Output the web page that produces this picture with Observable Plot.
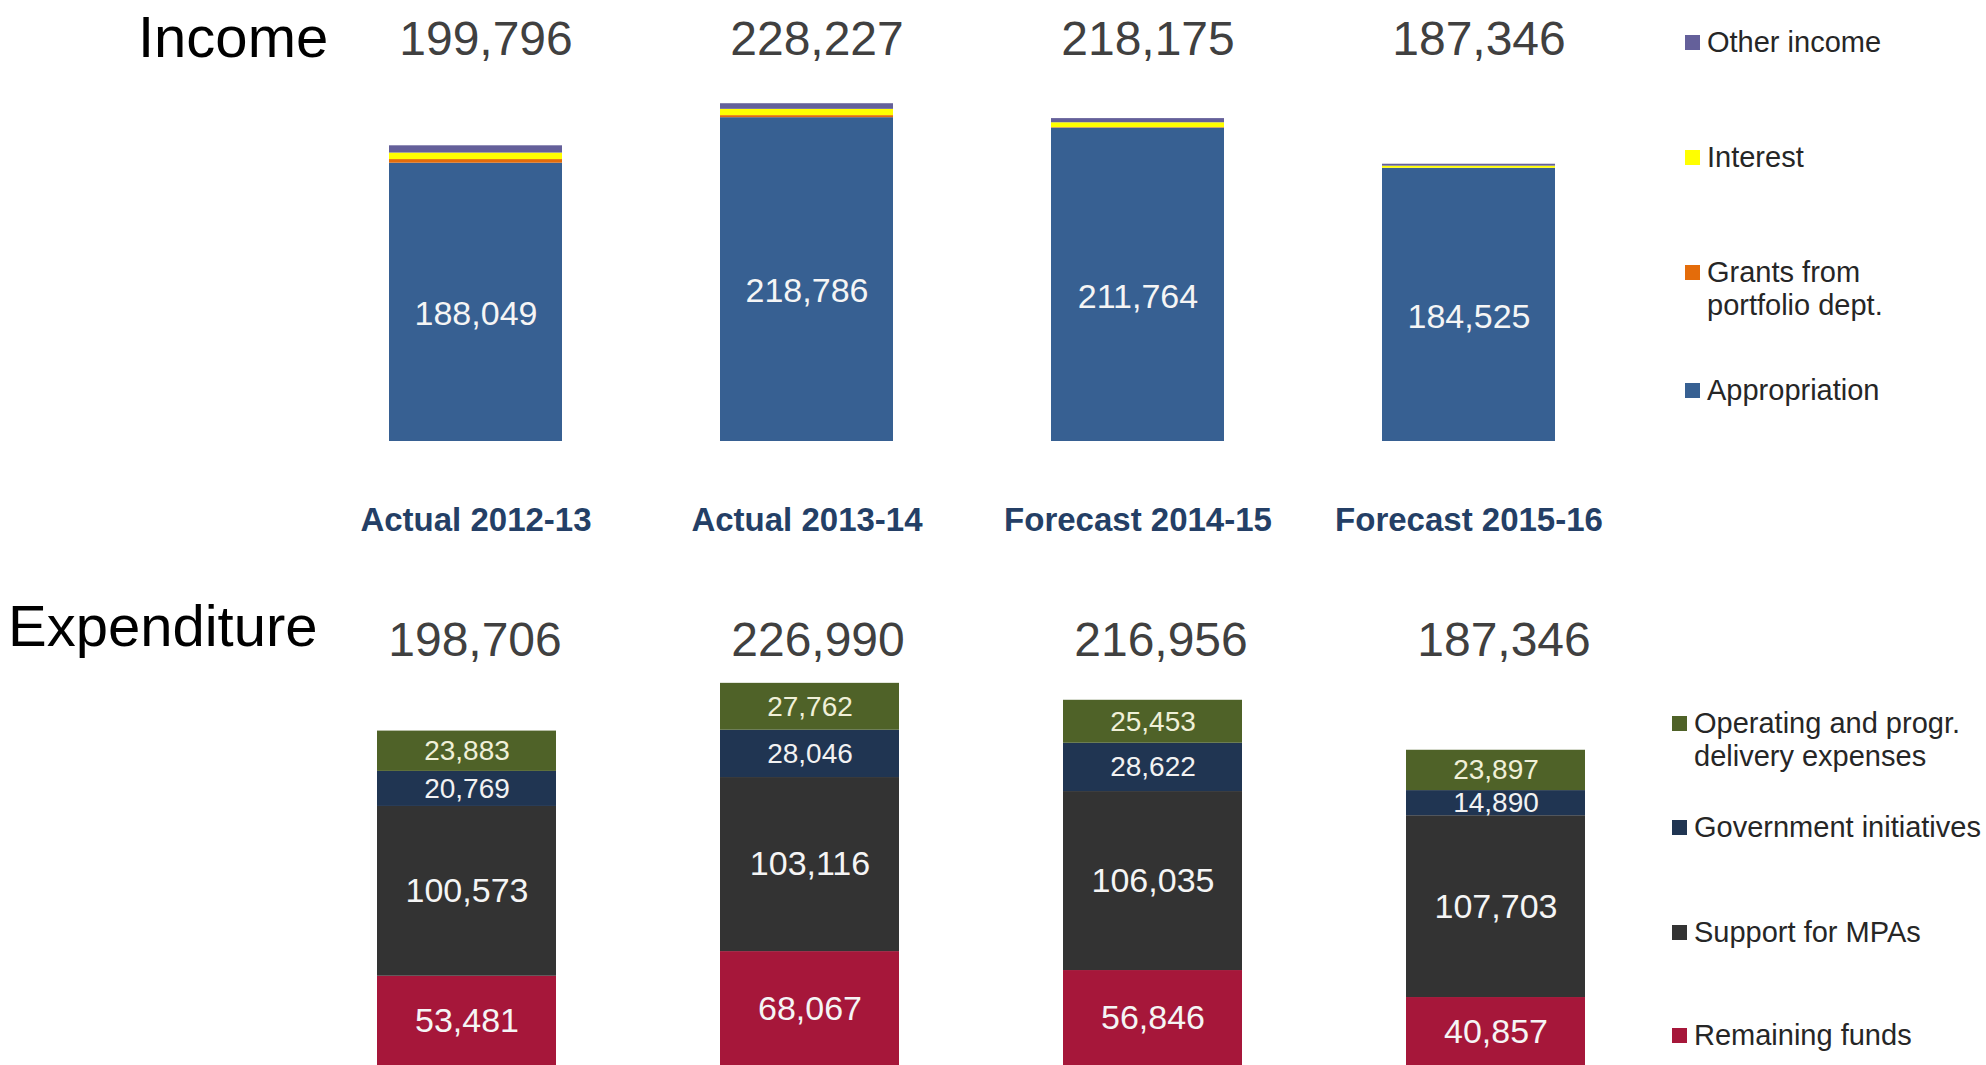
<!DOCTYPE html>
<html><head><meta charset="utf-8">
<script src="https://cdn.jsdelivr.net/npm/d3@7"></script>
<script src="https://cdn.jsdelivr.net/npm/@observablehq/plot@0.6"></script>
<style>
html,body{margin:0;padding:0;background:#fff;overflow:hidden}
#root{position:relative;width:1986px;height:1065px;overflow:hidden;font-family:"Liberation Sans",Arial,sans-serif}
.title{position:absolute;font-size:58px;line-height:58px;color:#000;white-space:nowrap}
.leg{position:absolute;font-size:29px;line-height:33px;color:#262626;white-space:pre}
.sw{position:absolute;width:15px;height:15px}
</style></head><body><div id="root"></div><script>
// ---- data ----
const years = ["Actual 2012-13", "Actual 2013-14", "Forecast 2014-15", "Forecast 2015-16"];

const incomeSeries = ["Appropriation", "Grants from portfolio dept.", "Interest", "Other income"];
const appropriation = [188049, 218786, 211764, 184525];
const grants = [2447, 1401, 311, 121];
const interest = [4400, 4250, 3300, 1400];
const otherIncome = [4900, 3790, 2800, 1300];
const incomeTotals = [199796, 228227, 218175, 187346];
const incomeColors = ["#376092", "#e46c0a", "#ffff00", "#64609a"];
const incomeLegendLabels = ["Appropriation", "Grants from\nportfolio dept.", "Interest", "Other income"];

const expSeries = ["Remaining funds", "Support for MPAs", "Government initiatives", "Operating and progr. delivery expenses"];
const remaining = [53481, 68067, 56846, 40857];
const supportMPAs = [100573, 103116, 106035, 107703];
const govInitiatives = [20769, 28046, 28622, 14890];
const operating = [23883, 27762, 25453, 23897];
const expTotals = [198706, 226990, 216956, 187346];
const expColors = ["#a6173a", "#333333", "#203552", "#4f6228"];
const expLegendLabels = ["Remaining funds", "Support for MPAs", "Government initiatives", "Operating and progr.\ndelivery expenses"];

// ---- build ----
const FONT = '"Liberation Sans", Arial, sans-serif';
const fmt = d3.format(",");
const incomeValues = [appropriation, grants, interest, otherIncome];
const expValues = [remaining, supportMPAs, govInitiatives, operating];
const incomeRows = incomeSeries.flatMap((s, i) => years.map((y, j) => ({year: y, series: s, value: incomeValues[i][j]})));
const expRows = expSeries.flatMap((s, i) => years.map((y, j) => ({year: y, series: s, value: expValues[i][j]})));

const root = document.getElementById("root");

const incomePlot = Plot.plot({
  width: 1986, height: 560,
  marginLeft: 231, marginRight: 273, marginTop: 71, marginBottom: 119,
  style: {fontFamily: FONT, background: "transparent"},
  x: {domain: years, padding: 0.476},
  y: {domain: [0, 250000], axis: null},
  color: {domain: incomeSeries, range: incomeColors},
  marks: [
    Plot.barY(incomeRows, Plot.stackY({x: "year", y: "value", fill: "series"})),
    Plot.text(incomeRows, Plot.stackY({x: "year", y: "value", z: "series",
      text: d => d.series === incomeSeries[0] ? fmt(d.value) : "",
      fill: "#f5f5f5", fontSize: 34, dy: 12})),
    Plot.text(years, {x: d => d, text: (d, i) => fmt(incomeTotals[i]), frameAnchor: "top", lineAnchor: "middle",
      dy: -32, dx: 10, fontSize: 48, fill: "#404040"}),
    Plot.axisX({tickSize: 0, tickPadding: 66, fontSize: 33, fontWeight: "bold", color: "#243f66", label: null})
  ]
});
incomePlot.style.position = "absolute";
incomePlot.style.left = "0px";
incomePlot.style.top = "0px";
root.appendChild(incomePlot);

const expPlot = Plot.plot({
  width: 1986, height: 526,
  marginLeft: 211, marginRight: 235, marginTop: 104, marginBottom: 0,
  style: {fontFamily: FONT, background: "transparent"},
  x: {domain: years, padding: 0.479, axis: null},
  y: {domain: [0, 250000], axis: null},
  color: {domain: expSeries, range: expColors},
  marks: [
    Plot.barY(expRows, Plot.stackY({x: "year", y: "value", fill: "series"})),
    Plot.text(expRows, Plot.stackY({x: "year", y: "value", z: "series",
      text: d => (d.series === expSeries[0] || d.series === expSeries[1]) ? fmt(d.value) : "",
      fill: "#f5f5f5", fontSize: 34})),
    Plot.text(expRows, Plot.stackY({x: "year", y: "value", z: "series",
      text: d => d.series === expSeries[2] ? fmt(d.value) : "",
      fill: "#f2f2f2", fontSize: 28})),
    Plot.text(expRows, Plot.stackY({x: "year", y: "value", z: "series",
      text: d => d.series === expSeries[3] ? fmt(d.value) : "",
      fill: "#f0f0d8", fontSize: 28})),
    Plot.text(years, {x: d => d, text: (d, i) => fmt(expTotals[i]), frameAnchor: "top", lineAnchor: "middle",
      dy: -4, dx: 8, fontSize: 48, fill: "#404040"})
  ]
});
expPlot.style.position = "absolute";
expPlot.style.left = "0px";
expPlot.style.top = "540px";
root.appendChild(expPlot);

// ---- titles ----
function addTitle(text, left, top) {
  const d = document.createElement("div");
  d.className = "title";
  d.textContent = text;
  d.style.left = left + "px";
  d.style.top = top + "px";
  root.appendChild(d);
}
addTitle("Income", 138, 8);
addTitle("Expenditure", 8, 597);

// ---- legends ----
function addLegendItem(label, color, swX, textX, centerY) {
  const t = document.createElement("div");
  t.className = "leg";
  t.textContent = label;
  t.style.left = textX + "px";
  t.style.top = (centerY - 16.5) + "px";
  root.appendChild(t);
  const s = document.createElement("div");
  s.className = "sw";
  s.style.background = color;
  s.style.left = swX + "px";
  s.style.top = (centerY - 7.5) + "px";
  root.appendChild(s);
}
const incomeLegendY = [390, 272, 157, 42];
incomeSeries.forEach((s, i) => addLegendItem(incomeLegendLabels[i], incomeColors[i], 1685, 1707, incomeLegendY[i]));
const expLegendY = [1035, 932, 827, 723];
expSeries.forEach((s, i) => addLegendItem(expLegendLabels[i], expColors[i], 1672, 1694, expLegendY[i]));
</script></body></html>
